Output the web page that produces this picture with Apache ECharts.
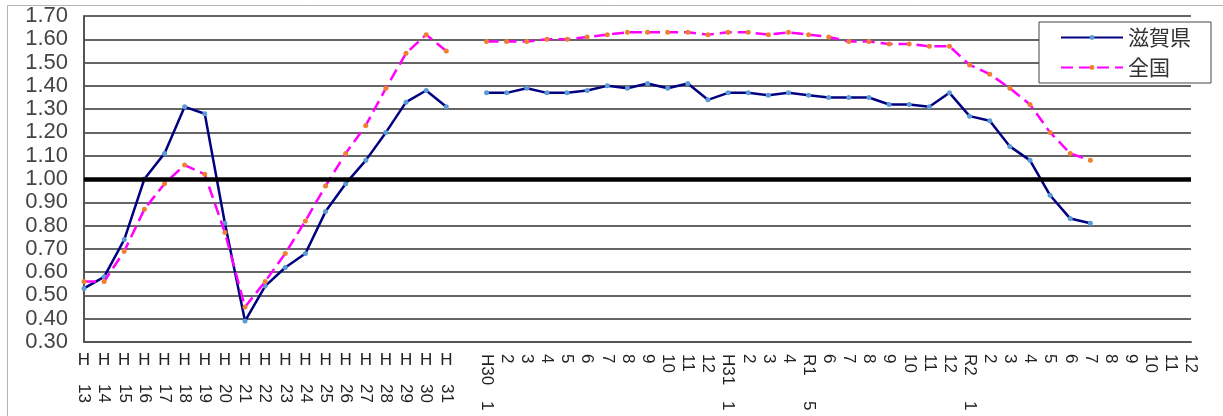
<!DOCTYPE html>
<html>
<head>
<meta charset="utf-8">
<script src="https://cdn.jsdelivr.net/npm/echarts@6/dist/echarts.min.js"></script>
<style>
  html, body { margin: 0; padding: 0; background: #fff; }
  #chart { width: 1223px; height: 416px; }
</style>
</head>
<body>
<div id="chart"></div>
<script>
// カテゴリ（年度 H13〜H31、空き1つ、月次 H30.1〜R2.12）
const categories = [
  'H13', 'H14', 'H15', 'H16', 'H17', 'H18', 'H19', 'H20', 'H21', 'H22',
  'H23', 'H24', 'H25', 'H26', 'H27', 'H28', 'H29', 'H30', 'H31', '',
  'H30.1', 'H30.2', 'H30.3', 'H30.4', 'H30.5', 'H30.6', 'H30.7', 'H30.8', 'H30.9', 'H30.10', 'H30.11', 'H30.12',
  'H31.1', 'H31.2', 'H31.3', 'H31.4',
  'R1.5', 'R1.6', 'R1.7', 'R1.8', 'R1.9', 'R1.10', 'R1.11', 'R1.12',
  'R2.1', 'R2.2', 'R2.3', 'R2.4', 'R2.5', 'R2.6', 'R2.7', 'R2.8', 'R2.9', 'R2.10', 'R2.11', 'R2.12'
]

// 滋賀県
const shiga = [
  0.53, 0.58, 0.74, 1.00, 1.11, 1.31, 1.28, 0.81, 0.39, 0.54,
  0.62, 0.68, 0.86, 0.98, 1.08, 1.20, 1.33, 1.38, 1.31, null,
  1.37, 1.37, 1.39, 1.37, 1.37, 1.38, 1.40, 1.39, 1.41, 1.39, 1.41, 1.34,
  1.37, 1.37, 1.36, 1.37,
  1.36, 1.35, 1.35, 1.35, 1.32, 1.32, 1.31, 1.37,
  1.27, 1.25, 1.14, 1.08, 0.93, 0.83, 0.81, null, null, null, null, null
]

// 全国
const zenkoku = [
  0.56, 0.56, 0.69, 0.87, 0.98, 1.06, 1.02, 0.77, 0.45, 0.56,
  0.68, 0.82, 0.97, 1.11, 1.23, 1.39, 1.54, 1.62, 1.55, null,
  1.59, 1.59, 1.59, 1.60, 1.60, 1.61, 1.62, 1.63, 1.63, 1.63, 1.63, 1.62,
  1.63, 1.63, 1.62, 1.63,
  1.62, 1.61, 1.59, 1.59, 1.58, 1.58, 1.57, 1.57,
  1.49, 1.45, 1.39, 1.32, 1.20, 1.11, 1.08, null, null, null, null, null
]

// 目盛ラベル（縦書き風に分けて表示）
const labelUpright = [
  'H', 'H', 'H', 'H', 'H', 'H', 'H', 'H', 'H', 'H',
  'H', 'H', 'H', 'H', 'H', 'H', 'H', 'H', 'H', '',
  '', '', '', '', '', '', '', '', '', '', '', '',
  '', '', '', '',
  '', '', '', '', '', '', '', '',
  '', '', '', '', '', '', '', '', '', '', '', ''
]
const labelYearNum = [
  '13', '14', '15', '16', '17', '18', '19', '20', '21', '22',
  '23', '24', '25', '26', '27', '28', '29', '30', '31', '',
  '', '', '', '', '', '', '', '', '', '', '', '',
  '', '', '', '',
  '', '', '', '', '', '', '', '',
  '', '', '', '', '', '', '', '', '', '', '', ''
]
const labelMonth = [
  '', '', '', '', '', '', '', '', '', '',
  '', '', '', '', '', '', '', '', '', '',
  'H30', '2', '3', '4', '5', '6', '7', '8', '9', '10', '11', '12',
  'H31', '2', '3', '4',
  'R1', '6', '7', '8', '9', '10', '11', '12',
  'R2', '2', '3', '4', '5', '6', '7', '8', '9', '10', '11', '12'
]
const labelMonthSub = [
  '', '', '', '', '', '', '', '', '', '',
  '', '', '', '', '', '', '', '', '', '',
  '1', '', '', '', '', '', '', '', '', '', '', '',
  '1', '', '', '',
  '5', '', '', '', '', '', '', '',
  '1', '', '', '', '', '', '', '', '', '', '', ''
]

const yMin = 0.3
const yMax = 1.7
const yStep = 0.1

const chart = echarts.init(document.getElementById('chart'))

const baseFont = "'Liberation Sans', Arial, sans-serif"

// x軸ラベル用の補助軸
function labelAxis (labels, rotate, margin) {
  return {
    type: 'category',
    data: categories,
    position: 'bottom',
    offset: 0,
    boundaryGap: false,
    axisLine: { show: false, onZero: false },
    axisTick: { show: false },
    splitLine: { show: false },
    axisLabel: {
      interval: 0,
      rotate: rotate,
      margin: margin,
      fontSize: 17,
      fontFamily: baseFont,
      color: '#222',
      formatter: (v, i) => labels[i]
    }
  }
}

const option = {
  animation: false,
  backgroundColor: '#fff',
  grid: {
    left: 84,
    right: 32,
    top: 16,
    bottom: 74
  },
  graphic: [
    {
      type: 'rect',
      silent: true,
      shape: { x: 7.5, y: 5.5, width: 1400, height: 600 },
      style: { fill: 'none', stroke: '#b4b4b4', lineWidth: 1 }
    }
  ],
  legend: {
    orient: 'vertical',
    right: 12,
    top: 22,
    itemWidth: 62,
    itemHeight: 6,
    itemGap: 9,
    padding: [5, 20, 5, 21],
    backgroundColor: '#fff',
    borderColor: '#444',
    borderWidth: 1,
    textStyle: {
      fontSize: 21,
      fontFamily: "'Noto Sans CJK JP', sans-serif",
      color: '#333'
    },
    data: ['滋賀県', '全国']
  },
  xAxis: [
    {
      type: 'category',
      data: categories,
      position: 'bottom',
      boundaryGap: false,
      axisLine: { onZero: false, lineStyle: { color: '#555', width: 2 } },
      axisTick: { show: false },
      splitLine: { show: false },
      axisLabel: {
        interval: 0,
        rotate: -90,
        margin: 12,
        fontSize: 17,
        fontFamily: baseFont,
        color: '#222',
        formatter: (v, i) => labelMonth[i]
      }
    },
    labelAxis(labelUpright, 0, 10),
    labelAxis(labelYearNum, -90, 42),
    labelAxis(labelMonthSub, -90, 59)
  ],
  yAxis: {
    type: 'value',
    min: yMin,
    max: yMax,
    interval: yStep,
    axisLine: { show: true, lineStyle: { color: '#555', width: 2 } },
    axisTick: { show: false },
    splitLine: { lineStyle: { color: '#666', width: 2 } },
    axisLabel: {
      margin: 16,
      fontSize: 22,
      fontFamily: "'Liberation Sans Narrow', 'Liberation Sans', sans-serif",
      color: '#444',
      formatter: (v) => v.toFixed(2)
    }
  },
  series: [
    {
      name: '滋賀県',
      type: 'line',
      data: shiga,
      connectNulls: false,
      symbol: 'circle',
      symbolSize: 5,
      showAllSymbol: true,
      lineStyle: { color: '#000080', width: 2.5 },
      itemStyle: { color: '#5b9bd5' },
      z: 3,
      markLine: {
        silent: true,
        symbol: 'none',
        label: { show: false },
        lineStyle: { color: '#000', width: 4.5, type: 'solid' },
        data: [{ yAxis: 1.0 }]
      }
    },
    {
      name: '全国',
      type: 'line',
      data: zenkoku,
      connectNulls: false,
      symbol: 'circle',
      symbolSize: 5,
      showAllSymbol: true,
      lineStyle: { color: '#ff00ff', width: 2.5, type: [12, 6] },
      itemStyle: { color: '#f08030' },
      z: 4
    }
  ]
}

chart.setOption(option)
</script>
</body>
</html>
